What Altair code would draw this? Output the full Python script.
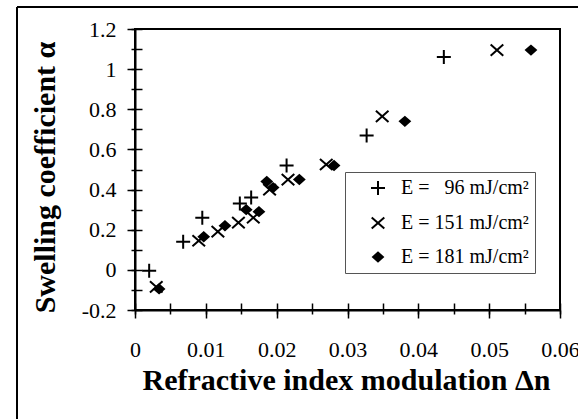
import altair as alt
import pandas as pd

# ---- data ----
series = ["E = \u200796 mJ/cm\u00b2", "E = 151 mJ/cm\u00b2", "E = 181 mJ/cm\u00b2"]

x96 = [0.0020, 0.0068, 0.0095, 0.0148, 0.0164, 0.0214, 0.0327, 0.0436]
y96 = [-0.005, 0.14, 0.26, 0.33, 0.36, 0.52, 0.67, 1.06]

x151 = [0.0030, 0.0090, 0.0117, 0.0146, 0.0167, 0.0190, 0.0216, 0.0270, 0.0349, 0.0511]
y151 = [-0.085, 0.145, 0.19, 0.235, 0.26, 0.40, 0.45, 0.525, 0.765, 1.095]

x181 = [0.0034, 0.0097, 0.0127, 0.0157, 0.0175, 0.0186, 0.0195, 0.0232, 0.0281, 0.0381, 0.0559]
y181 = [-0.095, 0.165, 0.22, 0.30, 0.29, 0.44, 0.41, 0.45, 0.52, 0.74, 1.095]

x_major = [0, 0.01, 0.02, 0.03, 0.04, 0.05, 0.06]
x_minor = [0, 0.005, 0.01, 0.015, 0.02, 0.025, 0.03, 0.035, 0.04, 0.045, 0.05, 0.055, 0.06]
y_major = [-0.2, 0, 0.2, 0.4, 0.6, 0.8, 1, 1.2]
y_minor = [-0.2, -0.1, 0, 0.1, 0.2, 0.3, 0.4, 0.5, 0.6, 0.7, 0.8, 0.9, 1, 1.1, 1.2]

rows = []
for name, xs, ys in zip(series, [x96, x151, x181], [y96, y151, y181]):
    for a, b in zip(xs, ys):
        rows.append({"dn": a, "alpha": b, "series": name})
df = pd.DataFrame(rows)

shapes = [
    "M-1,0L1,0M0,-1L0,1",
    "M-0.9,-0.8L0.9,0.8M-0.9,0.8L0.9,-0.8",
    "M-0.7,0L0,-0.62L0.7,0L0,0.62Z",
]
blacks = ["black", "black", "black"]

FONT = "Liberation Serif"
xscale = alt.Scale(domain=[0, 0.06], nice=False, zero=False)
yscale = alt.Scale(domain=[-0.2, 1.2], nice=False, zero=False)

leg = alt.Legend(title=None, orient="none", legendX=210, legendY=143,
                 labelExpr="datum.label + '\u00a0\u00a0\u00a0\u00a0'")

pts = alt.Chart(df).mark_point(
    filled=True, size=196, strokeWidth=2, opacity=1
).encode(
    x=alt.X("dn:Q", scale=xscale, axis=alt.Axis(
        values=x_major, title="Refractive index modulation \u0394n", orient="bottom",
        labelExpr="datum.value == 0 ? '0' : format(datum.value, '.2f')",
        tickSize=8, labelPadding=21, labelFlush=False, labelOverlap=False, labelBound=False,
        titleX=211, titleY=70, titleBaseline="middle", titleAlign="center")),
    y=alt.Y("alpha:Q", scale=yscale, axis=alt.Axis(
        values=y_major, title="Swelling coefficient \u03b1", orient="left",
        labelExpr="datum.value < 0 ? '-' + format(-datum.value, '~g') : format(datum.value, '~g')",
        tickSize=8, labelPadding=11, labelOverlap=False, labelFlush=False,
        titleX=-90, titleY=148, titleBaseline="middle", titleAlign="center", titleAngle=-90)),
    shape=alt.Shape("series:N", scale=alt.Scale(domain=series, range=shapes), legend=leg),
    stroke=alt.Stroke("series:N", scale=alt.Scale(domain=series, range=blacks), legend=leg),
    fill=alt.Fill("series:N", scale=alt.Scale(domain=series, range=blacks), legend=leg),
)

ticks = alt.Chart(df).mark_point(opacity=0).encode(
    x=alt.X("dn:Q", scale=xscale, title=None, axis=alt.Axis(
        orient="bottom", values=x_minor, labels=False, domain=False,
        tickSize=11, offset=-7)),
    y=alt.Y("alpha:Q", scale=yscale, title=None, axis=alt.Axis(
        orient="left", values=y_minor, labels=False, domain=False,
        tickSize=11, offset=-7)),
)

one = alt.Data(values=[{"k": 1}])
top_rule = alt.Chart(one).mark_rule(color="black", strokeWidth=2).encode(
    x=alt.value(-118), x2=alt.value(443), y=alt.value(-22))
left_rule = alt.Chart(one).mark_rule(color="black", strokeWidth=2).encode(
    x=alt.value(-118), y=alt.value(-22), y2=alt.value(390))

chart = alt.layer(pts, ticks, top_rule, left_rule).resolve_axis(
    x="independent", y="independent"
).properties(
    width=425, height=281,
    autosize=alt.AutoSizeParams(type="none"),
    padding={"left": 135, "top": 29, "right": 18, "bottom": 109},
    background="white",
).configure_axis(
    grid=False, domainColor="black", domainWidth=2, tickColor="black", tickWidth=1.5,
    labelColor="black", labelFont=FONT, labelFontSize=22,
    titleFont=FONT, titleFontSize=30, titleFontWeight="bold", titleColor="black",
).configure_view(
    stroke="black", strokeWidth=2,
).configure_legend(
    strokeColor="#555", strokeWidth=1, fillColor="white", padding=6,
    symbolOffset=17, labelOffset=13, rowPadding=14,
    labelFont=FONT, labelFontSize=20, labelColor="black",
    symbolSize=196, symbolStrokeWidth=2, labelLimit=300,
)

chart.save("out.html", embed_options={"renderer": "svg", "actions": False})
